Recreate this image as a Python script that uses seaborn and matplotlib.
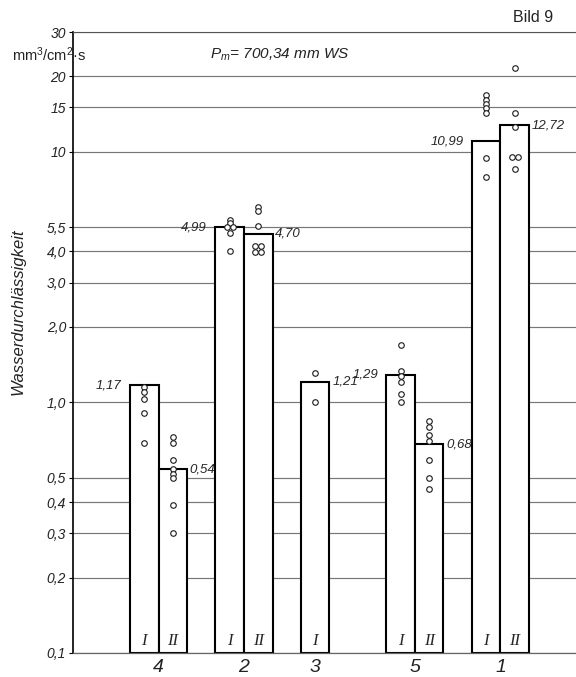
import matplotlib
matplotlib.use("Agg")
import numpy as np
import pandas as pd
import matplotlib.pyplot as plt
from matplotlib import font_manager
from matplotlib.ticker import NullLocator
import seaborn as sns

# bars: sample number (group) and test series I / II
groups = ["4", "2", "3", "5", "1"]
bar_group = ["4", "4", "2", "2", "3", "5", "5", "1", "1"]
bar_series = ["I", "II", "I", "II", "I", "I", "II", "I", "II"]
bar_means = [1.17, 0.54, 4.99, 4.70, 1.21, 1.29, 0.68, 10.99, 12.72]
mean_labels = ["1,17", "0,54", "4,99", "4,70", "1,21", "1,29", "0,68", "10,99", "12,72"]

# single measurements (circles) for each bar, same order as above
single_values = [
    [1.15, 1.10, 1.03, 0.91, 0.69],
    [0.73, 0.69, 0.59, 0.54, 0.52, 0.50, 0.39, 0.30],
    [5.36, 5.17, 4.99, 4.99, 4.72, 4.03],
    [6.0, 5.78, 5.07, 4.22, 4.22, 3.97, 3.97],
    [1.31, 1.00],
    [1.70, 1.33, 1.27, 1.21, 1.08, 1.00],
    [0.84, 0.80, 0.74, 0.70, 0.59, 0.50, 0.45],
    [16.8, 16.1, 15.5, 14.9, 14.3, 9.4, 7.9],
    [21.6, 14.2, 12.5, 9.5, 9.5, 8.5],
]

y_ticks = [0.1, 0.2, 0.3, 0.4, 0.5, 1, 2, 3, 4, 5, 10, 15, 20, 30]
y_tick_labels = ["0,1", "0,2", "0,3", "0,4", "0,5", "1,0", "2,0", "3,0",
                 "4,0", "5,5", "10", "15", "20", "30"]

sns.set_style("white")
names = {f.name for f in font_manager.fontManager.ttflist}
fam = "Liberation Sans Narrow" if "Liberation Sans Narrow" in names else "Liberation Sans"
plt.rcParams["font.family"] = [fam, "DejaVu Sans"]
plt.rcParams["mathtext.fontset"] = "custom"
plt.rcParams["mathtext.rm"] = fam
plt.rcParams["mathtext.it"] = fam + ":italic"

# layout: each group takes 3 slots, bar I in the first, bar II in the second
pos = []
for g, s in zip(bar_group, bar_series):
    pos.append(groups.index(g) * 3 + 2.5 + (1 if s == "II" else 0))

fig = plt.figure(figsize=(5.76, 6.77), dpi=100)
ax = fig.add_axes([73 / 576, 24 / 677, 503 / 576, 621 / 677])

bars = pd.DataFrame({"pos": pos, "mean": bar_means})
sns.barplot(data=bars, x="pos", y="mean", native_scale=True, width=1,
            color="white", saturation=1, edgecolor="black", linewidth=1.5,
            errorbar=None, ax=ax, zorder=2)

ax.set_yscale("log")
ylo, yhi = 0.1, 30
for p in ax.patches:
    top = p.get_y() + p.get_height()
    p.set_y(ylo)
    p.set_height(top - ylo)

# single values, side by side when equal
rows = []
for x0, vals in zip(pos, single_values):
    for v in vals:
        same = [u for u in vals if u == v]
        k = sum(1 for r in rows if r["x0"] == x0 and r["y"] == v)
        off = (k - (len(same) - 1) / 2) * 0.2
        rows.append({"x0": x0, "x": x0 + off, "y": v})
pts = pd.DataFrame(rows)
sns.scatterplot(data=pts, x="x", y="y", marker="o", s=16, color="white",
                edgecolor="#1a1a1a", linewidth=0.8, ax=ax, zorder=3)

# mean labels
for x0, m, lab, g, s in zip(pos, bar_means, mean_labels, bar_group, bar_series):
    pair = bar_group.count(g) == 2
    if s == "I" and pair:
        ax.annotate(lab, xy=(x0 - 0.5, m), xytext=(-6, 0), textcoords="offset points",
                    ha="right", va="center", fontsize=9.5, fontstyle="italic")
    else:
        ax.annotate(lab, xy=(x0 + 0.5, m), xytext=(2, 0), textcoords="offset points",
                    ha="left", va="center", fontsize=9.5, fontstyle="italic")
    ax.annotate(s, xy=(x0, ylo), xytext=(0, 3), textcoords="offset points",
                ha="center", va="bottom", fontsize=12, fontstyle="italic",
                family="Liberation Serif")

ax.set_ylim(ylo, yhi)
ax.set_xlim(0, 503 / 28.5)
ax.set_yticks(y_ticks)
ax.set_yticklabels(y_tick_labels, fontstyle="italic", fontsize=10)
ax.yaxis.set_minor_locator(NullLocator())
ax.tick_params(axis="y", which="major", left=True, length=3, width=0.8,
               color="black", pad=2, labelcolor="#222222")

centers = [np.mean([p for p, g in zip(pos, bar_group) if g == gg]) for gg in groups]
ax.set_xticks(centers)
ax.set_xticklabels(groups, fontstyle="italic", fontsize=14)
ax.tick_params(axis="x", length=0, pad=4, labelcolor="#222222")
ax.set_xlabel("")
ax.set_ylabel("")

ax.grid(True, axis="y", which="major", color="#777777", linewidth=0.85)
ax.set_axisbelow(True)
ax.spines["right"].set_visible(False)
ax.spines["top"].set_color("#555555")
ax.spines["bottom"].set_color("#666666")
ax.spines["bottom"].set_linewidth(0.9)
ax.spines["left"].set_color("black")
ax.spines["left"].set_linewidth(1.2)

fig.text(18 / 576, 1 - 312 / 677, "Wasserdurchlässigkeit", rotation=90,
         ha="center", va="center", fontsize=12, fontstyle="italic", color="#222222")
fig.text(12 / 576, 1 - 55 / 677, r"$\mathregular{mm^3/cm^2}$·s",
         ha="left", va="center", fontsize=10.5, color="#222222")
fig.text(280 / 576, 1 - 55 / 677, r"$P_m$= 700,34 mm WS", ha="center",
         va="center", fontsize=11, fontstyle="italic", color="#222222")
fig.text(513 / 576, 1 - 18 / 677, "Bild 9", ha="left", va="center",
         fontsize=11.5, color="#222222")

fig.savefig("out.png", dpi=100)
